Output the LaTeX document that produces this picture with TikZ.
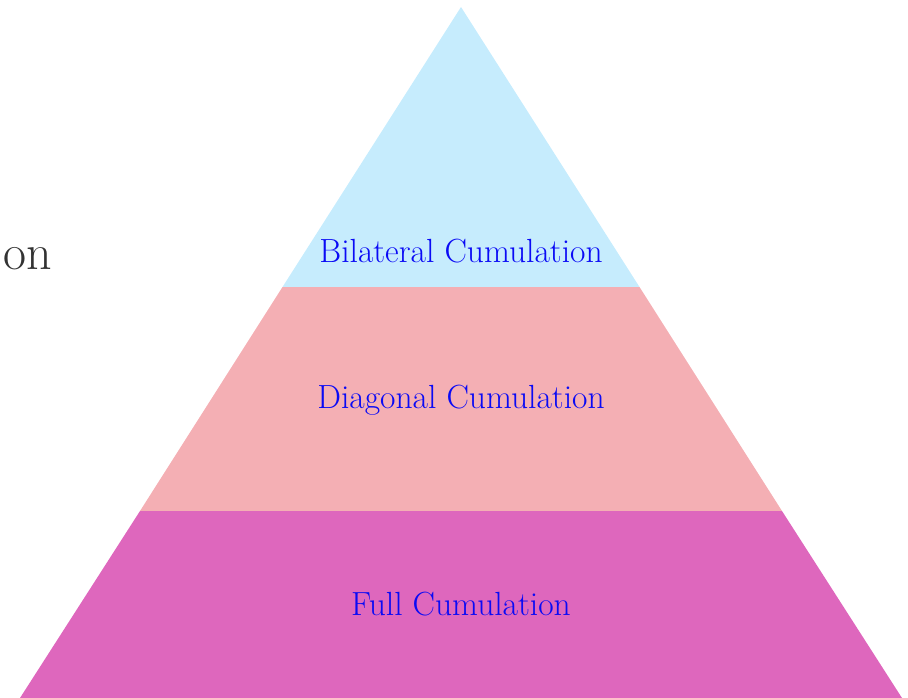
\documentclass[tikz,border=0pt]{standalone}
\usepackage{fontspec}
\definecolor{tierTop}{HTML}{C6ECFD}
\definecolor{tierMid}{HTML}{F4AFB4}
\definecolor{tierLow}{HTML}{DE67BD}
\definecolor{labelBlue}{HTML}{0A0AF5}
\definecolor{titleGray}{HTML}{333333}
\begin{document}
\begin{tikzpicture}[x=1pt,y=-1pt,
  tierlabel/.style={text=labelBlue,font=\fontsize{33.5}{40}\selectfont,inner sep=0pt,anchor=base},
  titlefrag/.style={text=titleGray,font=\fontsize{50}{60}\selectfont,inner sep=0pt,anchor=base east}]
\useasboundingbox (0,0) rectangle (908,698);
% pyramid corners and tier boundaries
\coordinate (apex) at (461,7);
\coordinate (t1l) at (282.5,287);
\coordinate (t1r) at (639.5,287);
\coordinate (t2l) at (140,511);
\coordinate (t2r) at (782,511);
\coordinate (bl) at (20,698);
\coordinate (br) at (902,698);
% tiers
\fill[tierTop] (apex) -- (t1r) -- (t1l) -- cycle;
\fill[tierMid] (t1l) -- (t1r) -- (t2r) -- (t2l) -- cycle;
\fill[tierLow] (t2l) -- (t2r) -- (br) -- (bl) -- cycle;
% labels
\node[tierlabel] (lab1) at (461,262) {Bilateral Cumulation};
\node[tierlabel] (lab2) at (461,408) {Diagonal Cumulation};
\node[tierlabel] (lab3) at (461,615) {Full Cumulation};
\node[titlefrag] (frag) at (52,269) {on};
\end{tikzpicture}
\end{document}
